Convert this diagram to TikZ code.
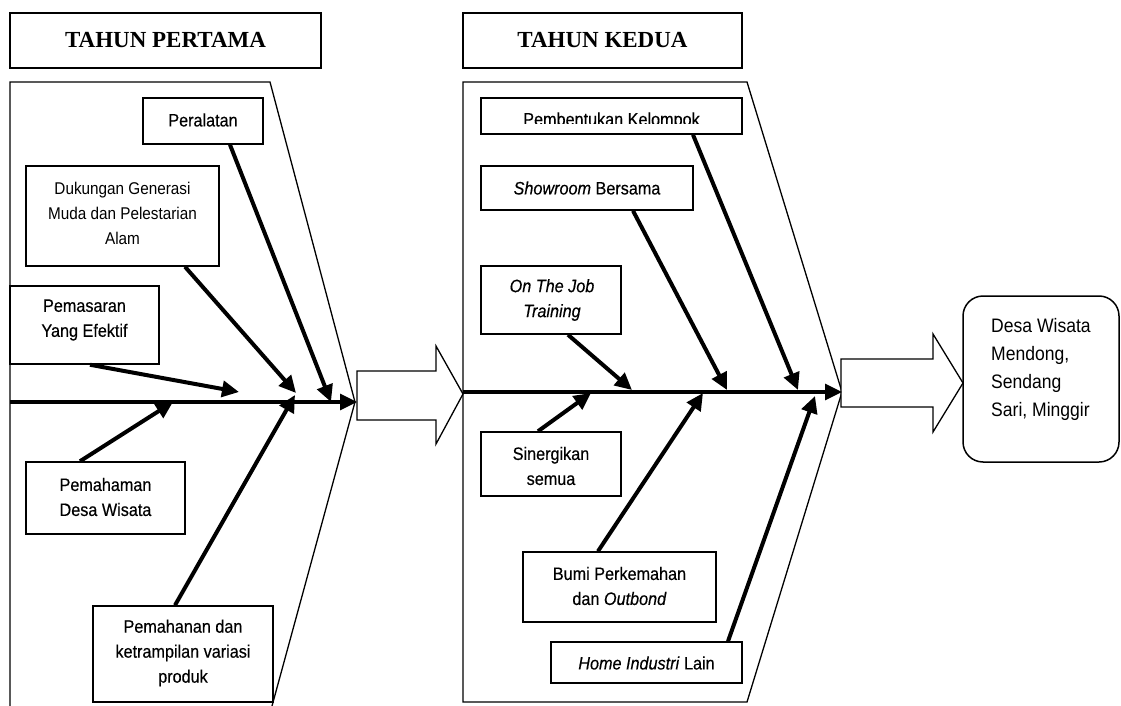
\documentclass[tikz,border=0pt]{standalone}
\usepackage{fontspec}
\setmainfont{Liberation Sans}[FakeStretch=0.9]
\newfontfamily\medfont{Liberation Sans}[FakeStretch=0.9,FakeBold=0.35]
\newfontfamily\titlefont{Liberation Serif}
\usetikzlibrary{arrows.meta,calc}
\tikzset{
  box/.style={draw, line width=1.5pt, inner sep=0pt},
  txt/.style={align=center, inner sep=0pt, font=\medfont\fontsize{18}{25}\selectfont},
  thintxt/.style={align=center, inner sep=0pt, font=\fontsize{17}{25}\selectfont},
  titlebox/.style={draw, line width=1.5pt, inner sep=0pt, font=\titlefont\bfseries\fontsize{23}{26}\selectfont},
  bone/.style={line width=4pt, -{Triangle[length=17pt,width=16pt]}},
  spine/.style={line width=3.3pt, -{Triangle[length=17pt,width=16pt]}},
  frameline/.style={line width=1.3pt, line join=miter},
  hollow/.style={line width=1.3pt, line join=miter, fill=white},
}
\begin{document}
\begin{tikzpicture}[x=1pt,y=-1pt]
\useasboundingbox (0,0) rectangle (1121,706);

% titles
\node[titlebox, minimum width=311pt, minimum height=55pt] (t1) at (165.5,40.5) {TAHUN PERTAMA};
\node[titlebox, minimum width=279pt, minimum height=55pt] (t2) at (602.5,40.5) {TAHUN KEDUA};

% frames
\draw[frameline] (10,706) -- (10,82) -- (270,82) -- (355,402) -- (272,706);
\draw[frameline] (463,702) -- (463,82) -- (747,82) -- (842,392) -- (747,702) -- cycle;

% hollow arrows
\draw[hollow] (357,371) -- (436,371) -- (436,346) -- (463,394) -- (436,444) -- (436,420) -- (357,420) -- cycle;
\draw[hollow] (841,359) -- (933,359) -- (933,334) -- (963,383) -- (933,432) -- (933,407) -- (841,407) -- cycle;

% boxes, first year
\node[box, minimum width=120pt, minimum height=46pt] (peral) at (203,121) {};
\node[txt] (peralT) at (203,120) {Peralatan};
\node[box, minimum width=193pt, minimum height=100pt] (dukung) at (122.5,216) {};
\node[thintxt] (dukungT) at (122.5,213) {Dukungan Generasi\\Muda dan Pelestarian\\Alam};
\node[box, minimum width=149pt, minimum height=78pt] (pemas) at (84.5,325) {};
\node[txt] (pemasT) at (84.5,320) {Pemasaran\\Yang Efektif};
\node[box, minimum width=159pt, minimum height=72pt] (pemah) at (105.5,498) {};
\node[txt] (pemahT) at (105.5,497) {Pemahaman\\Desa Wisata};
\node[box, minimum width=180pt, minimum height=96pt] (pemhn) at (183,654) {};
\node[txt] (pemhnT) at (183,653) {Pemahanan dan\\ketrampilan variasi\\produk};

% boxes, second year
\node[box, minimum width=261pt, minimum height=36pt] (pembt) at (611.5,116) {};
\begin{scope}
  \clip (482,99) rectangle (741,124);
  \node[txt, anchor=base] (pembtT) at (611.5,125.5) {Pembentukan Kelompok};
\end{scope}
\node[box, minimum width=212pt, minimum height=44pt] (showr) at (587,188) {};
\node[txt] (showrT) at (587,188) {\textit{Showroom} Bersama};
\node[box, minimum width=140pt, minimum height=68pt] (otj) at (551,300) {};
\node[txt] (otjT) at (552,300) {\textit{On The Job}\\\textit{Training}};
\node[box, minimum width=140pt, minimum height=64pt] (siner) at (551,464) {};
\node[txt] (sinerT) at (551,466) {Sinergikan\\semua};
\node[box, minimum width=193pt, minimum height=70pt] (bumi) at (619.5,587) {};
\node[txt] (bumiT) at (619.5,586) {Bumi Perkemahan\\dan \textit{Outbond}};
\node[box, minimum width=191pt, minimum height=41pt] (home) at (646.5,662.5) {};
\node[txt] (homeT) at (646.5,663) {\textit{Home Industri} Lain};

% result
\node[box, rounded corners=20pt, minimum width=156pt, minimum height=166pt] (desa) at (1041,379) {};
\node[thintxt, anchor=west, align=left, font=\fontsize{19.5}{28}\selectfont] (desaT) at (991,369.5) {Desa Wisata\\Mendong,\\Sendang\\Sari, Minggir};

% spine coordinates
\coordinate (s1a) at (10,402);
\coordinate (s1b) at (357,402);
\coordinate (s2a) at (463,392);
\coordinate (s2b) at (842,392);
\coordinate (e1) at (331,402);
\coordinate (e2) at (296,393);
\coordinate (e3) at (239,392);
\coordinate (e4) at (173,402);
\coordinate (e5) at (295,395);
\coordinate (f1) at (798,390);
\coordinate (f2) at (727,390);
\coordinate (f3) at (632,390);
\coordinate (f4) at (591,393);
\coordinate (f5) at (703,393);
\coordinate (f6) at (815,396);

\draw[spine] (s1a) -- (s1b);
\draw[spine] (s2a) -- (s2b);

\draw[bone] ([xshift=27pt]peral.south) -- (e1);
\draw[bone] ([xshift=62.5pt]dukung.south) -- (e2);
\draw[bone] ([xshift=5.5pt]pemas.south) -- (e3);
\draw[bone] ([xshift=-25.5pt]pemah.north) -- (e4);
\draw[bone] ([xshift=-8pt]pemhn.north) -- (e5);

\draw[bone] ([xshift=81.5pt]pembt.south) -- (f1);
\draw[bone] ([xshift=46pt]showr.south) -- (f2);
\draw[bone] ([xshift=17pt]otj.south) -- (f3);
\draw[bone] ([xshift=-13pt]siner.north) -- (f4);
\draw[bone] ([xshift=-21.5pt]bumi.north) -- (f5);
\draw[bone] ([xshift=81.5pt]home.north) -- (f6);
\end{tikzpicture}
\end{document}
